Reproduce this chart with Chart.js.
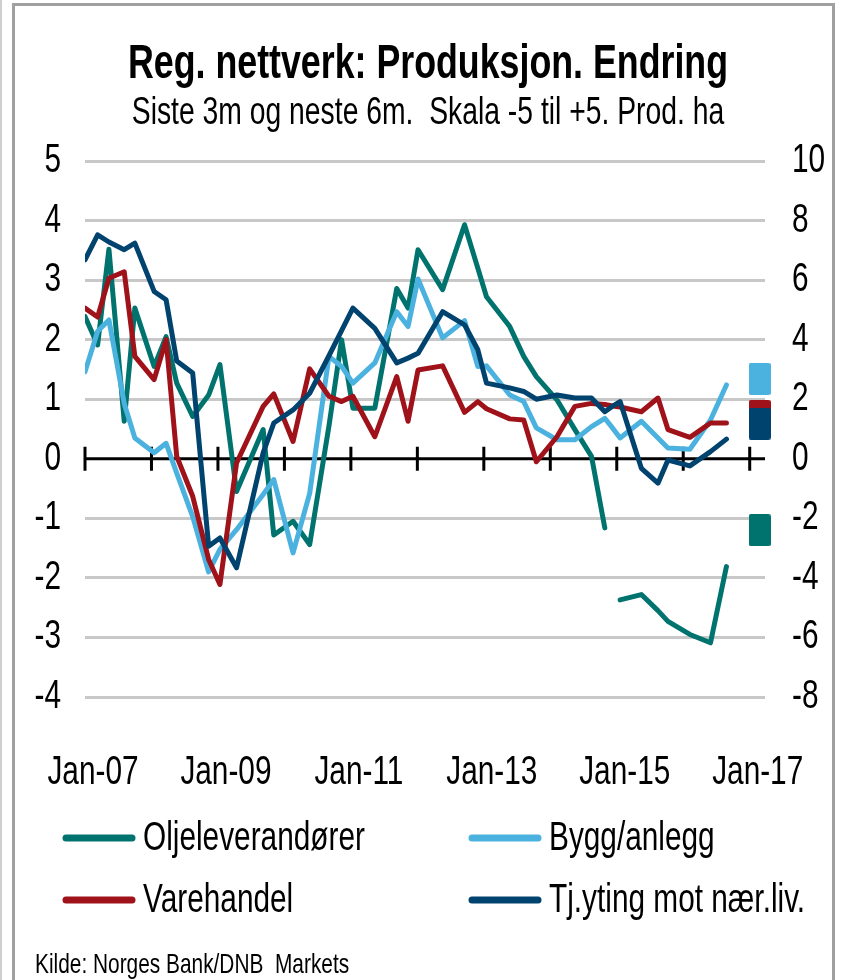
<!DOCTYPE html>
<html>
<head>
<meta charset="utf-8">
<script src="https://cdn.jsdelivr.net/npm/chart.js@4.4.1/dist/chart.umd.min.js"></script>
<style>
  html, body { margin: 0; padding: 0; background: #fff; }
  #wrap { position: relative; width: 842px; height: 980px; overflow: hidden; background: #fff; }
  #edge { position: absolute; left: 0; top: 0; width: 2px; height: 980px; background: #cfcfcf; }
  #frame { position: absolute; left: 12px; top: 3px; width: 823px; height: 1000px; border: 3px solid #a0a0a0; box-sizing: border-box; }
  #c { position: absolute; left: 0; top: 0; }
</style>
</head>
<body>
<div id="wrap">
  <div id="edge"></div>
  <div id="frame"></div>
  <canvas id="c" width="842" height="980"></canvas>
</div>
<script>
// ---------- data ----------
const dates = [2007.00, 2007.19, 2007.36, 2007.59, 2007.75, 2008.04, 2008.22, 2008.38, 2008.62, 2008.86,
               2009.03, 2009.28, 2009.68, 2009.84, 2010.13, 2010.38, 2010.67, 2010.86, 2011.03, 2011.36,
               2011.69, 2011.86, 2012.01, 2012.38, 2012.71, 2012.91, 2013.04, 2013.39, 2013.60, 2013.79,
               2014.10, 2014.37, 2014.62, 2014.82, 2014.92, 2015.05, 2015.37, 2015.62, 2015.77, 2016.10,
               2016.41, 2016.65];

const oljeleverandorer = [2.39, 1.91, 3.52, 0.63, 2.53, 1.55, 2.05, 1.27, 0.71, 1.07,
                          1.58, -0.55, 0.49, -1.28, -1.05, -1.44, 0.55, 2.00, 0.85, 0.85,
                          2.86, 2.53, 3.51, 2.84, 3.93, 3.20, 2.72, 2.22, 1.72, 1.38,
                          0.99, 0.49, 0.04, -1.16, null, -2.37, -2.28, -2.55, -2.73, -2.95,
                          -3.09, -1.81];

const byggAnlegg = [1.46, 2.14, 2.33, 0.93, 0.35, 0.10, 0.26, -0.24, -0.97, -1.90,
                    -1.52, -1.19, -0.60, -0.35, -1.58, -0.58, 1.72, 1.55, 1.27, 1.61,
                    2.47, 2.22, 3.02, 2.03, 2.32, 1.55, 1.56, 1.07, 0.96, 0.52,
                    0.32, 0.32, 0.54, 0.68, 0.54, 0.35, 0.63, 0.35, 0.18, 0.16,
                    0.65, 1.24];

const varehandel = [2.53, 2.38, 3.03, 3.14, 1.72, 1.33, 2.00, 0.04, -0.63, -1.69,
                    -2.11, -0.07, 0.88, 1.09, 0.29, 1.51, 1.05, 0.96, 1.05, 0.37,
                    1.38, 0.63, 1.49, 1.56, 0.78, 0.96, 0.84, 0.67, 0.65, -0.05,
                    0.37, 0.88, 0.93, 0.91, 0.89, 0.87, 0.79, 1.02, 0.49, 0.36,
                    0.60, 0.60];

const tjenesteyting = [3.34, 3.76, 3.64, 3.51, 3.62, 2.81, 2.67, 1.64, 1.44, -1.47,
                       -1.33, -1.83, 0.10, 0.60, 0.82, 1.10, 1.73, 2.15, 2.53, 2.19,
                       1.61, 1.69, 1.77, 2.47, 2.25, 1.83, 1.27, 1.19, 1.13, 1.00,
                       1.07, 1.02, 1.02, 0.79, 0.87, 0.96, -0.16, -0.41, -0.02, -0.12,
                       0.12, 0.33];

// expectations next 6m (squares at right), order: Olje, Bygg, Vare, Tj
const forventningDato = 2017.15;
const forventninger = [-1.20, 1.34, 0.72, 0.59];

const seriesNames = ['Oljeleverandører', 'Bygg/anlegg', 'Varehandel', 'Tj.yting mot nær.liv.'];
const seriesColors = ['#00736E', '#4BB2E0', '#A0121A', '#00436E'];

const leftTicks = [5, 4, 3, 2, 1, 0, -1, -2, -3, -4];
const rightTicks = [10, 8, 6, 4, 2, 0, -2, -4, -6, -8];
const xLabelYears = [2007, 2009, 2011, 2013, 2015, 2017];
const xTickYears = [2007, 2008, 2009, 2010, 2011, 2012, 2013, 2014, 2015, 2016, 2017];

const titleText = 'Reg. nettverk: Produksjon. Endring';
const subtitleText = 'Siste 3m og neste 6m.  Skala -5 til +5. Prod. ha';
const sourceText = 'Kilde: Norges Bank/DNB  Markets';

// ---------- font: condensed look (Arial Narrow style) by horizontal text scaling ----------
const FAMILY = '"Liberation Sans", Arial, sans-serif';
const S = 0.745;
const canvas = document.getElementById('c');
const ctx0 = canvas.getContext('2d');
const origFill = ctx0.fillText.bind(ctx0);
const origMeasure = ctx0.measureText.bind(ctx0);
ctx0.fillText = function (text, x, y, maxWidth) {
  ctx0.save();
  ctx0.translate(x, y);
  ctx0.scale(S, 1);
  if (maxWidth === undefined || maxWidth === null) origFill(text, 0, 0);
  else origFill(text, 0, 0, maxWidth / S);
  ctx0.restore();
};
ctx0.measureText = function (text) {
  const m = origMeasure(text);
  return {
    width: m.width * S,
    actualBoundingBoxLeft: m.actualBoundingBoxLeft * S,
    actualBoundingBoxRight: m.actualBoundingBoxRight * S,
    actualBoundingBoxAscent: m.actualBoundingBoxAscent,
    actualBoundingBoxDescent: m.actualBoundingBoxDescent,
    fontBoundingBoxAscent: m.fontBoundingBoxAscent,
    fontBoundingBoxDescent: m.fontBoundingBoxDescent
  };
};

// ---------- helpers ----------
const toXY = (vals) => dates.map((d, i) => ({ x: d, y: vals[i] }));

function makeSquare(color) {
  const cv = document.createElement('canvas');
  cv.width = 22; cv.height = 32;
  const g = cv.getContext('2d');
  g.fillStyle = color;
  g.beginPath();
  if (g.roundRect) g.roundRect(0, 0, 22, 32, 2); else g.rect(0, 0, 22, 32);
  g.fill();
  return cv;
}

// ---------- plugins ----------
const zeroAxis = {
  id: 'zeroAxis',
  beforeDatasetsDraw(chart) {
    const { ctx, chartArea, scales } = chart;
    const y0 = scales.y.getPixelForValue(0);
    ctx.save();
    ctx.strokeStyle = '#000';
    ctx.lineWidth = 3;
    ctx.beginPath();
    ctx.moveTo(chartArea.left, y0);
    ctx.lineTo(chartArea.right, y0);
    ctx.stroke();
    ctx.beginPath();
    xTickYears.forEach(yr => {
      const px = scales.x.getPixelForValue(yr);
      ctx.moveTo(px, y0 - 12);
      ctx.lineTo(px, y0 + 12);
    });
    ctx.stroke();
    ctx.restore();
  }
};

const twoColLegend = {
  id: 'twoColLegend',
  afterDraw(chart) {
    const ctx = chart.ctx;
    const items = chart.data.datasets.filter(d => d.inLegend);
    const cols = [62, 468];
    const rows = [838, 900];
    items.forEach((d, i) => {
      const lx = cols[i % 2], ly = rows[Math.floor(i / 2)];
      ctx.save();
      ctx.strokeStyle = d.borderColor;
      ctx.lineWidth = 7;
      ctx.lineCap = 'round';
      ctx.beginPath();
      ctx.moveTo(lx + 4, ly);
      ctx.lineTo(lx + 70, ly);
      ctx.stroke();
      ctx.fillStyle = '#000';
      ctx.font = '40px ' + FAMILY;
      ctx.textBaseline = 'middle';
      ctx.textAlign = 'left';
      ctx.fillText(d.label, lx + 81, ly + 1);
      ctx.restore();
    });
    ctx.save();
    ctx.fillStyle = '#000';
    ctx.font = '28px ' + FAMILY;
    ctx.textBaseline = 'middle';
    ctx.textAlign = 'left';
    ctx.fillText(sourceText, 35, 965);
    ctx.restore();
  }
};

// ---------- chart ----------
const lineSeries = [oljeleverandorer, byggAnlegg, varehandel, tjenesteyting];
const datasets = lineSeries.map((vals, i) => ({
  type: 'line',
  label: seriesNames[i],
  inLegend: true,
  data: toXY(vals),
  borderColor: seriesColors[i],
  backgroundColor: seriesColors[i],
  borderWidth: 5,
  pointRadius: 0,
  pointHoverRadius: 0,
  tension: 0,
  spanGaps: false,
  borderJoinStyle: 'round',
  borderCapStyle: 'round',
  order: 5 - i,
  yAxisID: 'y'
}));

datasets.push({
  type: 'scatter',
  label: 'Forventning neste 6m',
  inLegend: false,
  data: forventninger.map(v => ({ x: forventningDato, y: v })),
  pointStyle: seriesColors.map(c => makeSquare(c)),
  pointRadius: 11,
  showLine: false,
  clip: false,
  order: 0,
  yAxisID: 'y'
});

new Chart(canvas, {
  data: { datasets },
  plugins: [zeroAxis, twoColLegend],
  options: {
    responsive: false,
    animation: false,
    events: [],
    layout: { padding: { left: 14, right: 0, top: 0, bottom: 0 } },
    plugins: {
      legend: { display: false },
      tooltip: { enabled: false },
      title: {
        display: true,
        text: titleText,
        color: '#000',
        font: { family: FAMILY, size: 48, weight: 'bold', lineHeight: 1.0 },
        padding: { top: 41, bottom: 0 }
      },
      subtitle: {
        display: true,
        text: subtitleText,
        color: '#000',
        font: { family: FAMILY, size: 38, weight: 'normal', lineHeight: 1.0 },
        padding: { top: 6, bottom: 28 }
      }
    },
    scales: {
      x: {
        type: 'linear',
        position: 'bottom',
        min: 2007,
        max: 2017.23,
        grid: { display: false },
        border: { display: false },
        afterBuildTicks: (s) => { s.ticks = xTickYears.map(v => ({ value: v })); },
        afterFit: (s) => { s.height = 283; s.paddingLeft = 0; s.paddingRight = 0; },
        ticks: {
          autoSkip: false,
          maxRotation: 0,
          minRotation: 0,
          padding: 44,
          labelOffset: 8,
          color: '#000',
          font: { family: FAMILY, size: 40 },
          callback: (v) => xLabelYears.includes(v) ? 'Jan-' + String(v % 100).padStart(2, '0') : ''
        }
      },
      y: {
        type: 'linear',
        position: 'left',
        min: -4,
        max: 5,
        afterBuildTicks: (s) => { s.ticks = leftTicks.map(v => ({ value: v })); },
        afterFit: (s) => { s.width = 71; },
        grid: {
          color: (c) => (c.tick && c.tick.value === 0) ? 'rgba(0,0,0,0)' : '#c8c8c8',
          lineWidth: 3,
          drawTicks: false
        },
        border: { display: false },
        ticks: {
          padding: 24,
          color: '#000',
          font: { family: FAMILY, size: 40 }
        }
      },
      y2: {
        type: 'linear',
        position: 'right',
        min: -8,
        max: 10,
        afterBuildTicks: (s) => { s.ticks = rightTicks.map(v => ({ value: v })); },
        afterFit: (s) => { s.width = 77; },
        grid: { drawOnChartArea: false, drawTicks: false },
        border: { display: false },
        ticks: {
          padding: 27,
          color: '#000',
          font: { family: FAMILY, size: 40 }
        }
      }
    }
  }
});
</script>
</body>
</html>
